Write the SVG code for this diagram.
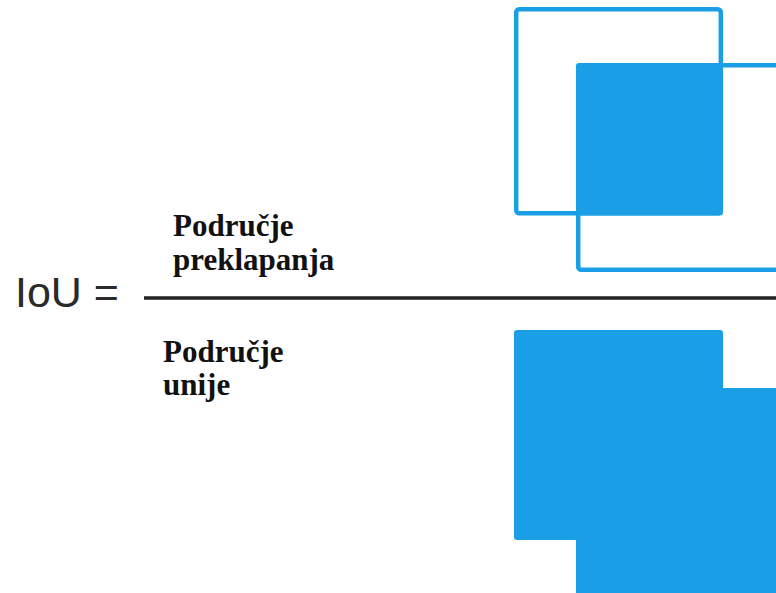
<svg xmlns="http://www.w3.org/2000/svg" width="776" height="593" viewBox="0 0 776 593">
<style>
.box{fill:none;stroke:#1a9fe6;stroke-width:4.5}
.fill{fill:#1a9fe6}
.lbl{font-family:"Liberation Serif","Times New Roman",serif;font-weight:bold;font-size:31px;fill:#111}
.iou{font-family:"Liberation Sans",Arial,sans-serif;font-size:43px;fill:#2a2a2a}
</style>
<rect width="776" height="593" fill="#fff"/>
<g id="formula">
<text class="iou" x="15" y="307">IoU =</text>
</g>
<g id="connectors">
<line x1="144" y1="298" x2="776" y2="298" stroke="#222" stroke-width="3.5"/>
</g>
<g id="numerator-label">
<text class="lbl" x="173" y="236">Područje</text>
<text class="lbl" x="173" y="270">preklapanja</text>
</g>
<g id="denominator-label">
<text class="lbl" x="163" y="362">Područje</text>
<text class="lbl" x="163" y="395">unije</text>
</g>
<g id="overlap-icon">
<rect class="box" x="516.2" y="9.2" width="204.6" height="204" rx="3"/>
<rect class="box" x="578.2" y="65.2" width="220" height="204.5" rx="3"/>
<rect class="fill" x="576" y="63" width="147" height="152.5" rx="3"/>
</g>
<g id="union-icon">
<rect class="fill" x="514" y="330" width="209" height="210" rx="3"/>
<rect class="fill" x="576" y="388" width="220" height="220" rx="3"/>
</g>
</svg>
